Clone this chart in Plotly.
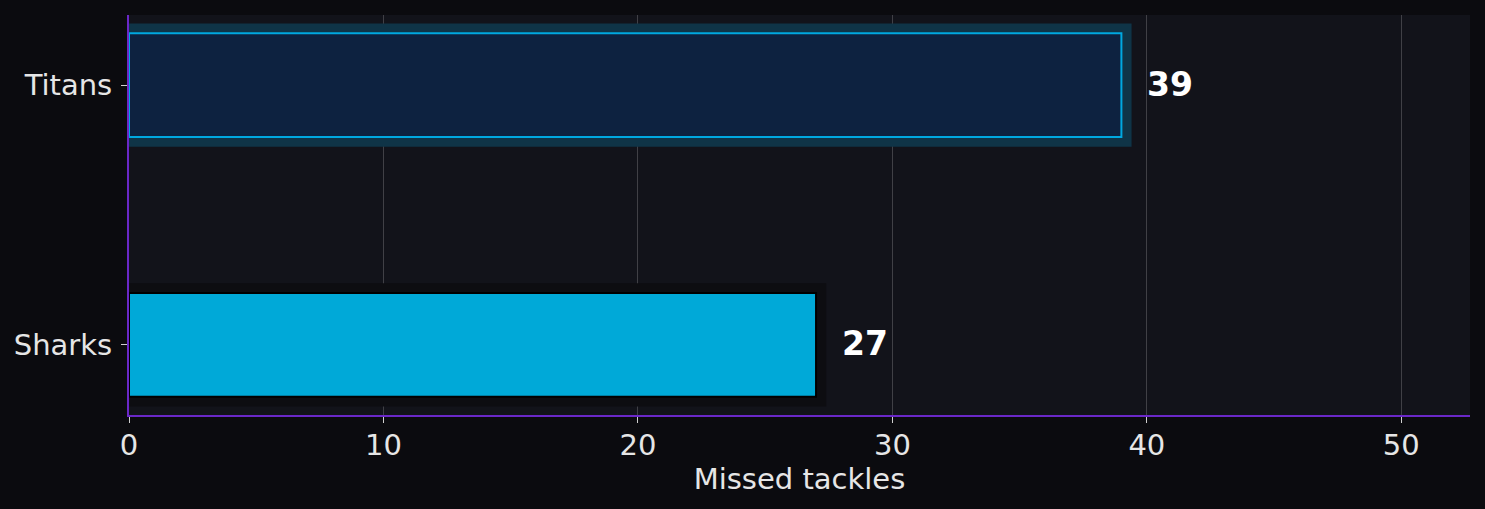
import plotly.graph_objects as go

# data
teams = ['Titans', 'Sharks']
missed_tackles = [39, 27]

bar_fill = ['#0d2240', '#00a9d8']
bar_edge = ['#00a8e0', '#000000']
glow_fill = ['#0f3447', '#0d0d11']

fig = go.Figure()

# soft glow behind each bar
fig.add_trace(go.Bar(
    y=teams,
    x=[v + 0.4 for v in missed_tackles],
    orientation='h',
    width=0.475,
    marker=dict(color=glow_fill, line=dict(width=0)),
    hoverinfo='skip',
    showlegend=False
))

fig.add_trace(go.Bar(
    y=teams,
    x=missed_tackles,
    orientation='h',
    width=0.4,
    marker=dict(color=bar_fill, line=dict(color=bar_edge, width=2)),
    hovertemplate='%{y}: %{x}<extra></extra>',
    showlegend=False
))

for t, v in zip(teams, missed_tackles):
    fig.add_annotation(
        x=v, y=t, text=f'<b>{v}</b>',
        xanchor='left', yanchor='middle', xshift=24, yshift=1, showarrow=False,
        font=dict(family='DejaVu Sans', size=33, color='white')
    )

tick_font = dict(family='DejaVu Sans', size=29, color='#e6e6e6')

fig.update_layout(
    width=1485, height=509,
    barmode='overlay',
    paper_bgcolor='#0b0b0f',
    plot_bgcolor='#12131a',
    font=dict(family='DejaVu Sans', size=29, color='#e6e6e6'),
    margin=dict(l=129, r=15, t=15, b=94),
    xaxis=dict(
        range=[0, 52.7], dtick=10,
        showgrid=True, gridcolor='#404046', gridwidth=1,
        zeroline=False,
        showline=True, linecolor='#6a28c8', linewidth=2,
        ticks='outside', ticklen=6, tickcolor='#cfcfcf',
        tickfont=tick_font, ticklabelstandoff=-3,
        title=dict(text='Missed tackles', standoff=6, font=tick_font)
    ),
    yaxis=dict(
        categoryorder='array', categoryarray=teams,
        range=[1.27, -0.27],
        showgrid=False, zeroline=False,
        showline=True, linecolor='#6a28c8', linewidth=2,
        ticks='outside', ticklen=6, tickcolor='#cfcfcf',
        tickfont=tick_font, ticklabelstandoff=3
    )
)

fig.write_html('out.html', config={'displayModeBar': False},
               post_script="document.body.style.margin='0';document.body.style.background='#0b0b0f';")
